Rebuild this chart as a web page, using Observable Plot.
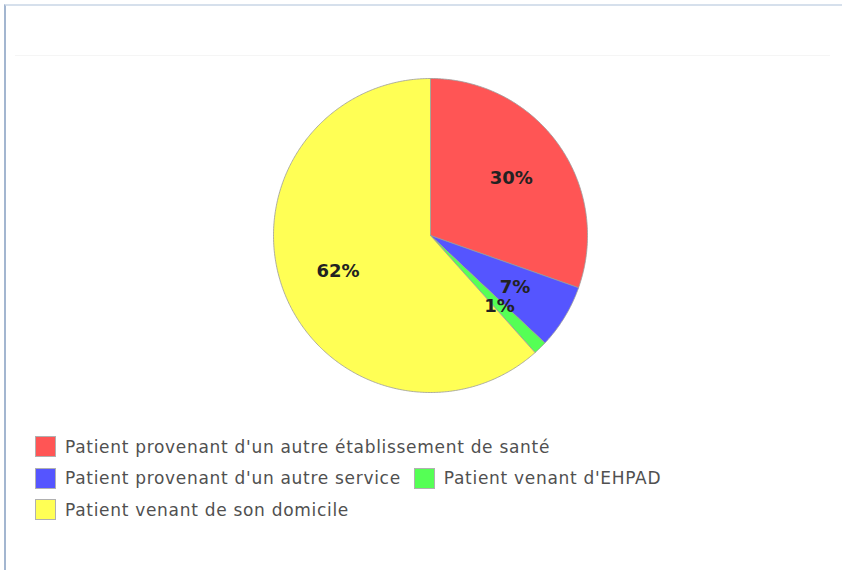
<!DOCTYPE html>
<html>
<head>
<meta charset="utf-8">
<script src="https://cdn.jsdelivr.net/npm/d3@7"></script>
<script src="https://cdn.jsdelivr.net/npm/@observablehq/plot@0.6"></script>
<style>
  html, body { margin: 0; padding: 0; background: #fff; }
  #wrap { position: relative; width: 842px; height: 570px; overflow: hidden; }
  #frame { position: absolute; left: 4px; top: 4px; right: 0; bottom: 0;
           border-left: 2px solid #a3b6d0; border-top: 2px solid #d6e0ec; }
  #faint { position: absolute; left: 15px; right: 12px; top: 55px; height: 1px; background: #f5f5f5; }
  #chart { position: absolute; left: 0; top: 0; }
  #legend { position: absolute; left: 35px; top: 436px; font-family: "DejaVu Sans", sans-serif;
            font-size: 17px; letter-spacing: 0.7px; color: #505050; }
  .row { display: flex; align-items: center; height: 21px; margin-bottom: 10.5px; white-space: nowrap; }
  .item { display: flex; align-items: center; margin-right: 13px; }
  .sw { width: 21px; height: 21px; border: 1px solid #b0b0b0; box-sizing: border-box; margin-right: 9px; }
</style>
</head>
<body>
<div id="wrap">
  <div id="frame"></div>
  <div id="faint"></div>
  <div id="chart"></div>
  <div id="legend"></div>
</div>
<script>
// Data
const categories = [
  "Patient provenant d'un autre établissement de santé",
  "Patient provenant d'un autre service",
  "Patient venant d'EHPAD",
  "Patient venant de son domicile"
];
const values = [30.4, 6.6, 1.4, 61.6];
const labels = ["30%", "7%", "1%", "62%"];
const colors = ["#ff5555", "#5555ff", "#55ff55", "#ffff55"];
const legendRows = [[0], [1, 2], [3]];

// Pie geometry from data (clockwise from 12 o'clock)
const arcs = d3.pie().sort(null).value(d => d.value)(
  categories.map((c, i) => ({cat: c, value: values[i], label: labels[i]}))
);
const points = [];
for (const a of arcs) {
  points.push({cat: a.data.cat, x: 0, y: 0});
  const n = Math.max(2, Math.ceil((a.endAngle - a.startAngle) / 0.01));
  for (let k = 0; k <= n; k++) {
    const t = a.startAngle + (a.endAngle - a.startAngle) * k / n;
    points.push({cat: a.data.cat, x: Math.sin(t), y: Math.cos(t)});
  }
  points.push({cat: a.data.cat, x: 0, y: 0});
}
const labelPts = arcs.map(a => {
  const m = (a.startAngle + a.endAngle) / 2;
  return {label: a.data.label, x: 0.63 * Math.sin(m), y: 0.63 * Math.cos(m)};
});

const chart = Plot.plot({
  width: 842,
  height: 428,
  x: {domain: [-1, 1], range: [273, 587], axis: null},
  y: {domain: [-1, 1], range: [392, 78], axis: null},
  color: {domain: categories, range: colors},
  marks: [
    Plot.line(points, {x: "x", y: "y", z: "cat", fill: "cat", stroke: "#9a9a9a", strokeWidth: 0.8, curve: "linear"}),
    Plot.text(labelPts, {x: "x", y: "y", text: "label", fontSize: 18, fontWeight: "bold",
      fontFamily: "DejaVu Sans", fill: "#222"})
  ]
});
chart.style.background = "transparent";
document.getElementById("chart").appendChild(chart);

// Legend
const legend = document.getElementById("legend");
for (const row of legendRows) {
  const r = document.createElement("div");
  r.className = "row";
  for (const i of row) {
    const it = document.createElement("div");
    it.className = "item";
    const sw = document.createElement("div");
    sw.className = "sw";
    sw.style.background = colors[i];
    const tx = document.createElement("span");
    tx.textContent = categories[i];
    it.appendChild(sw);
    it.appendChild(tx);
    r.appendChild(it);
  }
  legend.appendChild(r);
}
</script>
</body>
</html>
